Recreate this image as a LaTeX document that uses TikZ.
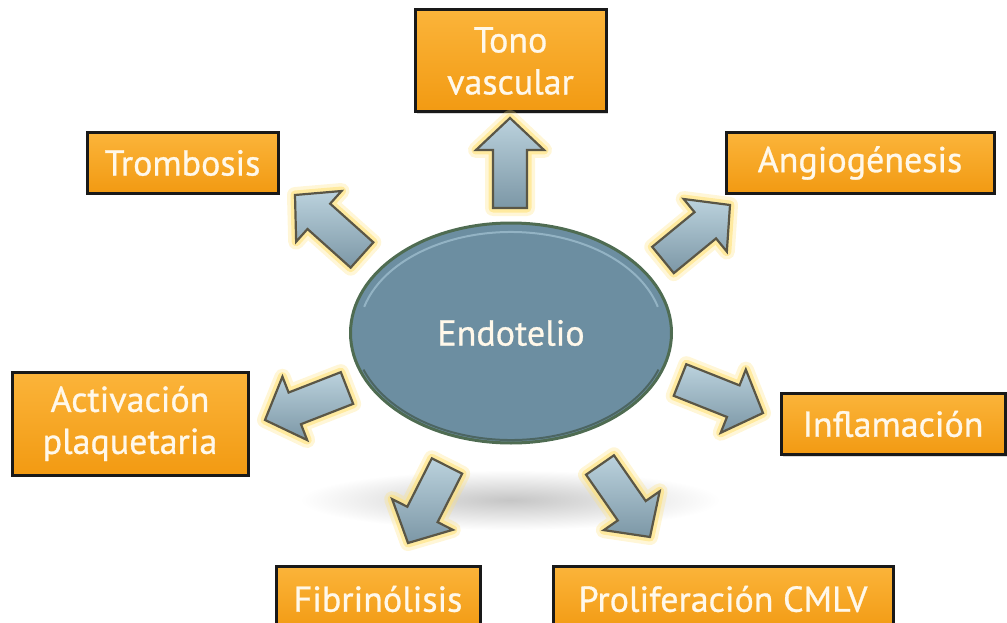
\documentclass[tikz,border=0pt]{standalone}
\usepackage{fontspec}
\setmainfont{PT Sans}
\newfontfamily\lblfont{PT Sans}[FakeBold=0.8]
\usetikzlibrary{calc,shadows,shapes.geometric}
\definecolor{boxfill}{HTML}{F29A12}
\definecolor{boxtop}{HTML}{FBB43A}
\definecolor{ellfill}{HTML}{6C8EA1}
\definecolor{ellline}{HTML}{4F6C52}
\definecolor{ellhi}{HTML}{9DBDCD}
\definecolor{arrtop}{HTML}{BBD2DD}
\definecolor{arrbot}{HTML}{7C97A6}
\definecolor{arrline}{HTML}{5A5646}
\definecolor{glowc}{HTML}{FFE27A}
\definecolor{txt}{HTML}{FFF8EA}
\tikzset{
  box/.style={draw=black!90, line width=3pt, top color=boxtop, bottom color=boxfill,
    text=txt, font=\lblfont\fontsize{36}{42}\selectfont, align=center, inner sep=0pt,
    drop shadow={opacity=0.3, shadow xshift=2pt, shadow yshift=-2pt}},
  glowout/.style={draw=glowc, line width=16pt, line join=round, opacity=0.3},
  glow/.style={draw=glowc, line width=9pt, line join=round, opacity=0.6},
  arrbody/.style={draw=arrline, line width=2.2pt, line join=miter, top color=arrtop, bottom color=arrbot},
}
\newcommand\arrpath[2]{($(#1)!17pt!90:(#2)$) -- ($(#2)!32pt!(#1)!17pt!-90:(#1)$) -- ($(#2)!32pt!(#1)!34pt!-90:(#1)$) -- (#2) -- ($(#2)!32pt!(#1)!34pt!90:(#1)$) -- ($(#2)!32pt!(#1)!17pt!90:(#1)$) -- ($(#1)!17pt!-90:(#2)$) -- cycle}
\newcommand\blockarrow[2]{\draw[glowout] \arrpath{#1}{#2}; \draw[glow] \arrpath{#1}{#2}; \draw[arrbody] \arrpath{#1}{#2};}
\begin{document}
\begin{tikzpicture}[x=1pt, y=-1pt]
\useasboundingbox (0,0) rectangle (1007,623);
% shadow under ellipse
\shade[inner color=gray!45, outer color=white] (510,500) ellipse (210 and 30);
% central ellipse
\node[ellipse, draw=ellline, line width=3pt, fill=ellfill, minimum width=321pt, minimum height=220pt,
  text=txt, font=\lblfont\fontsize{36}{42}\selectfont, inner sep=0pt] (endo) at (511,333) {Endotelio};
\draw[ellhi, line width=2pt, opacity=0.8] (511+152*cos 195, 333+101*sin 195) arc[start angle=195, end angle=345, x radius=152, y radius=101];
\draw[ellline!70!black, line width=2pt, opacity=0.6] (511+157*cos 20, 333+107*sin 20) arc[start angle=20, end angle=160, x radius=157, y radius=107];
% boxes
\node[box, minimum width=191pt, minimum height=102pt] (tono) at (510.5,61) {Tono\\vascular};
\node[box, minimum width=191pt, minimum height=60pt] (trom) at (182.5,163) {Trombosis};
\node[box, minimum width=268pt, minimum height=60pt] (angio) at (860,163) {Angiogénesis};
\node[box, minimum width=236pt, minimum height=103pt] (activ) at (130,423.5) {Activación\\plaquetaria};
\node[box, minimum width=224pt, minimum height=61pt] (infl) at (893,424) {Inflamación};
\node[box, minimum width=204pt, minimum height=66pt] (fibr) at (378,599) {Fibrinólisis};
\node[box, minimum width=340pt, minimum height=66pt] (prol) at (723,599) {Proliferación CMLV};
% arrow end points
\coordinate (a1s) at (510,208); \coordinate (a1e) at (510,118);
\coordinate (a2s) at (362,255); \coordinate (a2e) at (295,195);
\coordinate (a3s) at (663,260); \coordinate (a3e) at (730,205);
\coordinate (a4s) at (347,388); \coordinate (a4e) at (265,420);
\coordinate (a5s) at (680,380); \coordinate (a5e) at (763,413);
\coordinate (a6s) at (447,466); \coordinate (a6e) at (408,543);
\coordinate (a7s) at (600,465); \coordinate (a7e) at (650,537);
\blockarrow{a1s}{a1e}
\blockarrow{a2s}{a2e}
\blockarrow{a3s}{a3e}
\blockarrow{a4s}{a4e}
\blockarrow{a5s}{a5e}
\blockarrow{a6s}{a6e}
\blockarrow{a7s}{a7e}
\end{tikzpicture}
\end{document}
